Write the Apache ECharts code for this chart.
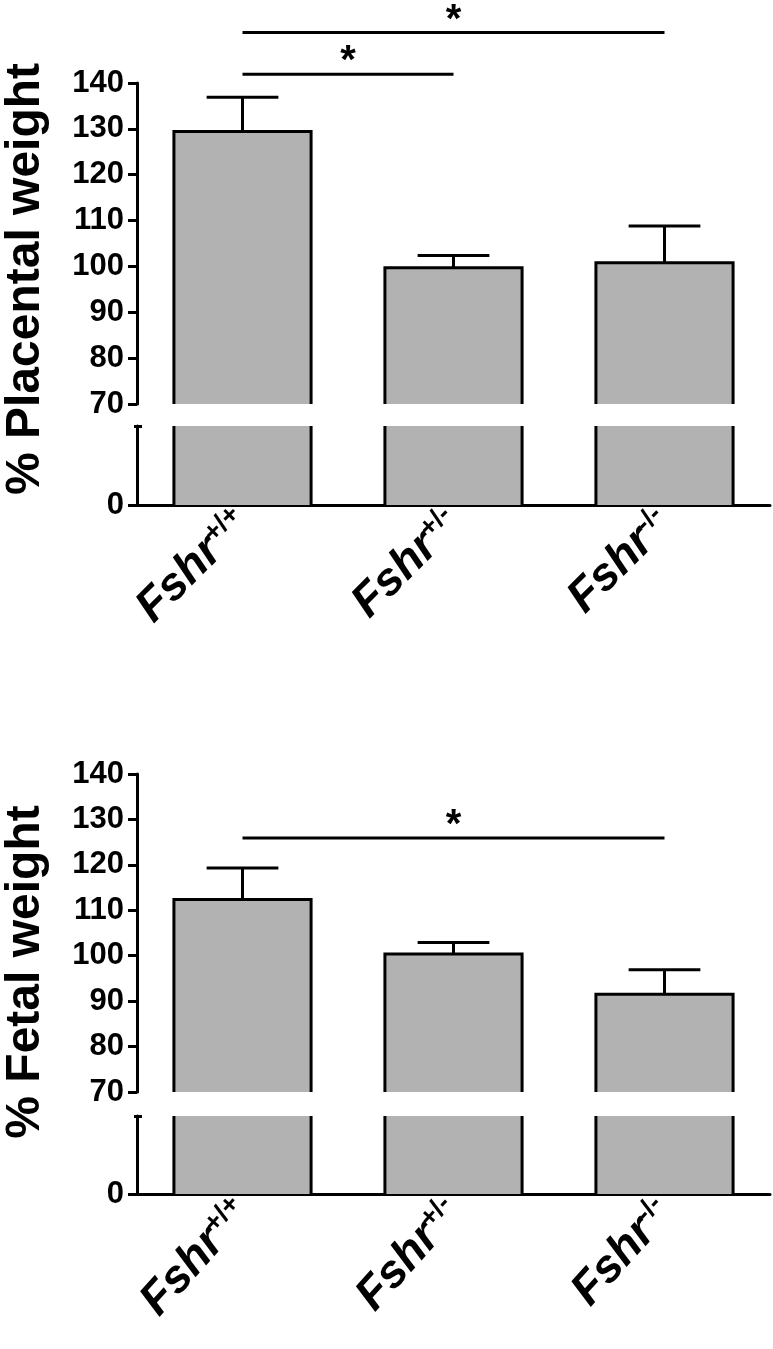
<!DOCTYPE html>
<html><head><meta charset="utf-8">
<script src="https://cdn.jsdelivr.net/npm/echarts@6/dist/echarts.min.js"></script>
<style>html,body{margin:0;padding:0;background:#fff}#c{width:773px;height:1349px}</style>
</head><body><div id="c"></div>
<script>
// ---------- data ----------
const categories = ['Fshr+/+', 'Fshr+/-', 'Fshr-/-'];
const placentalMean = [129.4, 99.7, 100.8];
const placentalSem = [7.5, 2.7, 8.0];
const fetalMean = [112.4, 100.4, 91.5];
const fetalSem = [6.9, 2.5, 5.4];
const upperTicks = [70, 80, 90, 100, 110, 120, 130, 140];
const lowerTicks = [0];
const placentalSig = [[0, 2, 151.0], [0, 1, 141.9]];
const fetalSig = [[0, 2, 125.9]];
const titles = ['% Placental weight', '% Fetal weight'];

// ---------- style / layout ----------
const FONT = "'Liberation Sans', Arial, sans-serif";
const BLACK = '#000';
const GRAY = '#b2b2b2';
const LW = 3;
const LEFT = 137, RIGHT = 3;
const BAR_FRAC = 0.65, CAP_FRAC = 0.34;
const LOWER_MAX = 17;
const STAR_RISE = 12;

const gridBoxes = [
  {top: 0, height: 404},    // 0 annotation (top panel)
  {top: 83, height: 321},   // 1 upper segment, top panel
  {top: 426, height: 79},   // 2 lower segment, top panel
  {top: 774, height: 318},  // 3 upper segment, bottom panel
  {top: 1116, height: 78}   // 4 lower segment, bottom panel
];
const grids = gridBoxes.map(b => ({left: LEFT, right: RIGHT, top: b.top, height: b.height}));

function xAxis(g, shown, rot) {
  return {
    type: 'category', gridIndex: g, position: 'bottom', data: categories, show: shown,
    boundaryGap: true,
    axisLine: {show: true, lineStyle: {color: BLACK, width: LW}},
    axisTick: {show: false},
    axisLabel: {
      show: shown, interval: 0, rotate: rot, margin: 12,
      formatter: v => '{a|Fshr}{b|' + v.slice(4) + '}',
      rich: {
        a: {fontSize: 46, fontWeight: 'bold', fontStyle: 'italic', fontFamily: FONT, color: BLACK},
        b: {fontSize: 27, fontWeight: 'bold', fontFamily: FONT, color: BLACK, verticalAlign: 'top'}
      }
    }
  };
}
const xAxes = [xAxis(0, false, 0), xAxis(1, false, 0), xAxis(2, true, 45), xAxis(3, false, 0), xAxis(4, true, 48)];

function upperAxis(g) {
  return {
    type: 'value', gridIndex: g, position: 'left',
    min: upperTicks[0], max: upperTicks[upperTicks.length - 1], interval: upperTicks[1] - upperTicks[0],
    splitLine: {show: false},
    axisLine: {show: true, lineStyle: {color: BLACK, width: LW}},
    axisTick: {show: true, length: 9, lineStyle: {color: BLACK, width: LW}},
    axisLabel: {fontSize: 31, fontWeight: 'bold', color: BLACK, fontFamily: FONT, margin: 13}
  };
}
function lowerAxis(g) {
  return {
    type: 'value', gridIndex: g, position: 'left', min: 0, max: LOWER_MAX, interval: LOWER_MAX,
    splitLine: {show: false},
    axisLine: {show: true, lineStyle: {color: BLACK, width: LW}},
    axisTick: {show: true, length: 9, customValues: lowerTicks, lineStyle: {color: BLACK, width: LW}},
    axisLabel: {fontSize: 31, fontWeight: 'bold', color: BLACK, fontFamily: FONT, margin: 13,
      customValues: lowerTicks, formatter: v => (lowerTicks.indexOf(v) >= 0 ? String(v) : '')}
  };
}
function capAxis(g, inside, len) {
  return {
    type: 'value', gridIndex: g, position: 'left', min: 0, max: LOWER_MAX, interval: LOWER_MAX,
    splitLine: {show: false}, axisLine: {show: false}, axisLabel: {show: false},
    axisTick: {show: true, inside: inside, length: len, customValues: [LOWER_MAX], lineStyle: {color: BLACK, width: LW}}
  };
}
const annotMax = upperTicks[0] + gridBoxes[0].height * (upperTicks[upperTicks.length - 1] - upperTicks[0]) / gridBoxes[1].height;
const yAxes = [
  {type: 'value', gridIndex: 0, position: 'left', min: upperTicks[0], max: annotMax, show: false}, // 0
  upperAxis(1),          // 1
  lowerAxis(2),          // 2
  capAxis(2, true, 5),   // 3
  capAxis(2, false, 3),  // 4
  upperAxis(3),          // 5
  lowerAxis(4),          // 6
  capAxis(4, true, 5),   // 7
  capAxis(4, false, 3)   // 8
];

function frameRender(withErr) {
  return function (params, api) {
    const i = api.value(0), m = api.value(1), s = api.value(2);
    const top = api.coord([i, m]);
    const base = api.coord([i, 0]);
    const band = api.size([1, 0])[0];
    const hw = band * BAR_FRAC / 2;
    const st = {stroke: BLACK, lineWidth: LW, fill: null};
    const children = [{
      type: 'polyline',
      shape: {points: [[top[0] - hw, base[1]], [top[0] - hw, top[1]], [top[0] + hw, top[1]], [top[0] + hw, base[1]]]},
      style: st
    }];
    if (withErr) {
      const e = api.coord([i, m + s]);
      const cw = band * CAP_FRAC / 2;
      children.push({type: 'line', shape: {x1: top[0], y1: top[1], x2: e[0], y2: e[1]}, style: st});
      children.push({type: 'line', shape: {x1: e[0] - cw, y1: e[1], x2: e[0] + cw, y2: e[1]}, style: st});
    }
    return {type: 'group', children: children};
  };
}
function sigRender(params, api) {
  const v = api.value(2);
  const a = api.coord([api.value(0), v]);
  const b = api.coord([api.value(1), v]);
  return {type: 'group', children: [
    {type: 'line', shape: {x1: a[0], y1: a[1], x2: b[0], y2: b[1]}, style: {stroke: BLACK, lineWidth: LW}},
    {type: 'text', x: (a[0] + b[0]) / 2, y: a[1] - STAR_RISE,
      style: {text: '*', font: 'bold 40px ' + FONT, fill: BLACK, align: 'center', verticalAlign: 'middle'}}
  ]};
}

function panelSeries(mean, sem, xU, yU, xL, yL) {
  const triples = mean.map((m, i) => [i, m, sem[i]]);
  return [
    {type: 'bar', xAxisIndex: xU, yAxisIndex: yU, data: mean, barWidth: (BAR_FRAC * 100) + '%', itemStyle: {color: GRAY}, silent: true},
    {type: 'bar', xAxisIndex: xL, yAxisIndex: yL, data: mean, barWidth: (BAR_FRAC * 100) + '%', itemStyle: {color: GRAY}, silent: true},
    {type: 'custom', xAxisIndex: xU, yAxisIndex: yU, data: triples, encode: {x: 0, y: 1}, clip: true, renderItem: frameRender(true), z: 5, silent: true},
    {type: 'custom', xAxisIndex: xL, yAxisIndex: yL, data: triples, encode: {x: 0, y: 1}, clip: true, renderItem: frameRender(false), z: 5, silent: true}
  ];
}

const series = [].concat(
  panelSeries(placentalMean, placentalSem, 1, 1, 2, 2),
  panelSeries(fetalMean, fetalSem, 3, 5, 4, 6),
  [
    {type: 'custom', xAxisIndex: 0, yAxisIndex: 0, data: placentalSig, encode: {x: [0, 1], y: 2}, clip: false, renderItem: sigRender, z: 6, silent: true},
    {type: 'custom', xAxisIndex: 3, yAxisIndex: 5, data: fetalSig, encode: {x: [0, 1], y: 2}, clip: false, renderItem: sigRender, z: 6, silent: true}
  ]
);

const titlePos = [[26, 279], [26, 972]];
const chart = echarts.init(document.getElementById('c'), null, {renderer: 'canvas'});
chart.setOption({
  animation: false,
  backgroundColor: '#fff',
  grid: grids,
  xAxis: xAxes,
  yAxis: yAxes,
  series: series,
  graphic: titles.map((t, k) => ({
    type: 'text', x: titlePos[k][0], y: titlePos[k][1], rotation: Math.PI / 2,
    style: {text: t, font: 'bold 48px ' + FONT, fill: BLACK, align: 'center', verticalAlign: 'middle'}
  }))
});
</script>
</body></html>
